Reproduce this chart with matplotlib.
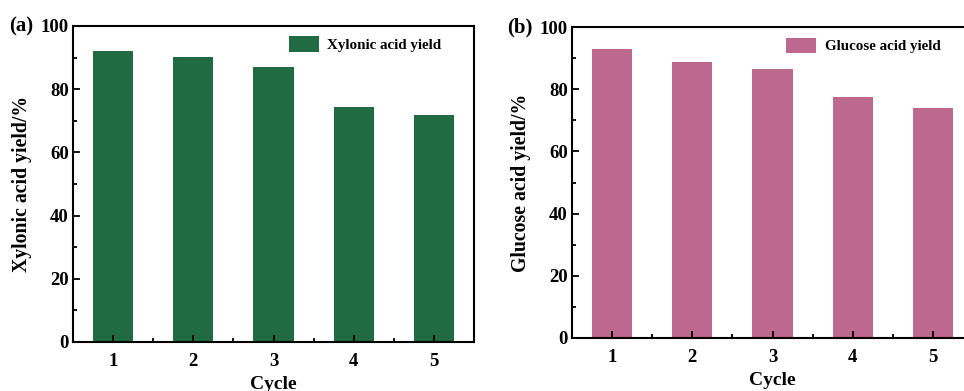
import matplotlib
matplotlib.use("Agg")
import matplotlib.pyplot as plt
from matplotlib.ticker import MultipleLocator

plt.rcParams["font.family"] = "Liberation Serif"
plt.rcParams["font.weight"] = "bold"

cycles = [1, 2, 3, 4, 5]
xylonic_yield = [92.2, 90.3, 87.1, 74.3, 71.7]
glucose_yield = [93.0, 88.8, 86.5, 77.5, 73.8]

W, H = 964, 391
fig = plt.figure(figsize=(W / 100, H / 100), dpi=100)


def panel(rect, values, color, label, ylabel, tag):
    ax = fig.add_axes(rect)
    ax.bar(cycles, values, width=0.5, color=color, label=label)
    ax.set_xlim(0.5, 5.5)
    ax.set_ylim(0, 100)
    ax.set_xticks(cycles)
    ax.set_yticks([0, 20, 40, 60, 80, 100])
    ax.xaxis.set_minor_locator(MultipleLocator(0.5))
    ax.yaxis.set_minor_locator(MultipleLocator(10))
    ax.tick_params(which="both", direction="in", width=1.3, labelsize=13.5)
    ax.tick_params(which="major", length=5)
    ax.tick_params(axis="x", which="major", pad=8)
    ax.tick_params(axis="y", which="major", pad=3)
    ax.tick_params(which="minor", length=3)
    for s in ax.spines.values():
        s.set_linewidth(1.5)
    ax.set_xlabel("Cycle", fontsize=14, fontweight="bold", labelpad=4)
    ax.set_ylabel(ylabel, fontsize=14.2, fontweight="bold", labelpad=6)
    ax.legend(loc="upper right", frameon=False, prop={"size": 10.8, "weight": "bold"},
              handlelength=2.0, handleheight=1.25, handletextpad=0.55,
              borderaxespad=0.3, bbox_to_anchor=(0.945, 1.0))
    ax.text(-0.13, 1.0, tag, transform=ax.transAxes, fontsize=15,
            fontweight="bold", ha="center", va="center")
    return ax


panel([73 / W, 1 - 342 / H, 401 / W, 316 / H], xylonic_yield, "#206b42",
      "Xylonic acid yield", "Xylonic acid yield/%", "(a)")
panel([572 / W, 1 - 338 / H, 401 / W, 311 / H], glucose_yield, "#bd688d",
      "Glucose acid yield", "Glucose acid yield/%", "(b)")

fig.savefig("out.png", dpi=100)
